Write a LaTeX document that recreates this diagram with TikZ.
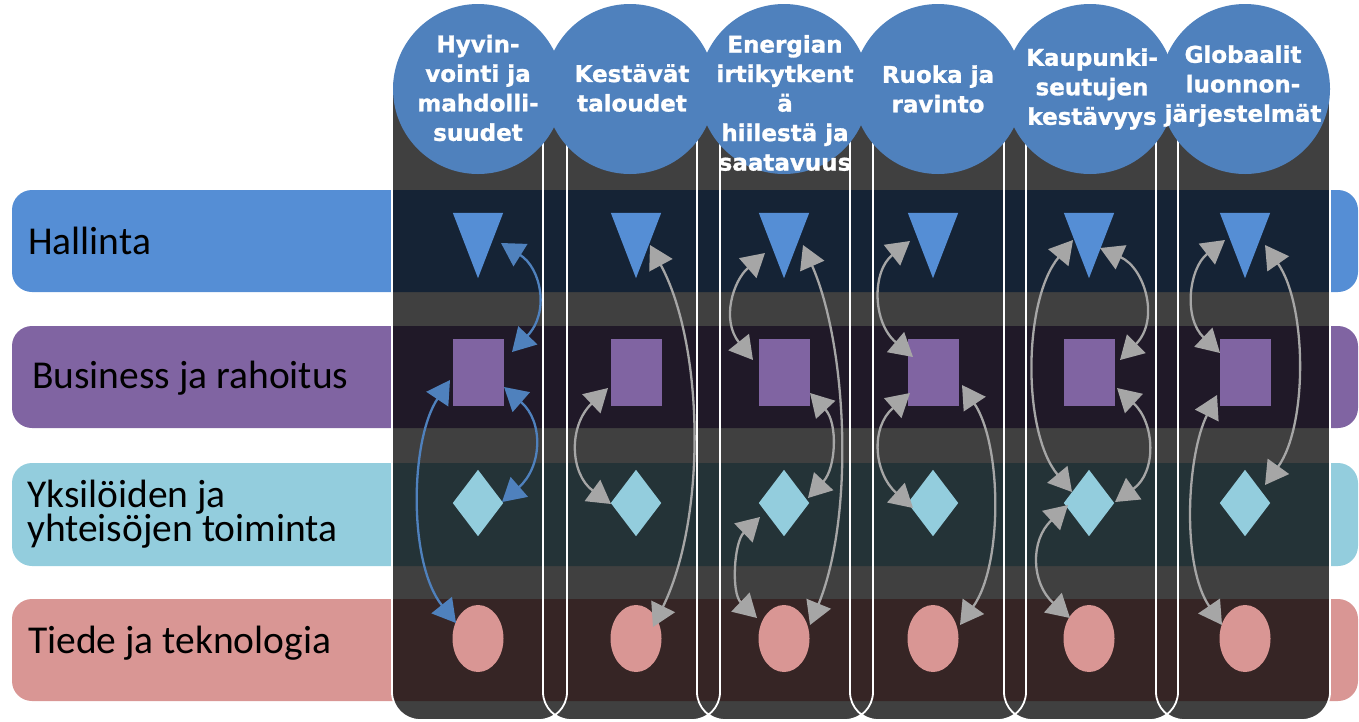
\documentclass[tikz,border=0pt]{standalone}
\usepackage{fontspec}
\setmainfont{Carlito}
\newfontfamily\hdrfont{DejaVu Sans Bold}[FakeBold=1.2]
\usetikzlibrary{arrows.meta,shapes.geometric,calc}
\definecolor{hdr}{HTML}{4F81BD}
\definecolor{cbl}{HTML}{558ED5}
\definecolor{cpu}{HTML}{8064A2}
\definecolor{clb}{HTML}{93CDDD}
\definecolor{cpk}{HTML}{D99694}
\definecolor{agray}{HTML}{A6A6A6}
\definecolor{ablue}{HTML}{4F81BD}
\begin{document}
\begin{tikzpicture}[x=1pt,y=-1pt,
  band/.style={fill=#1, rounded corners=20pt},
  hdrtext/.style={text=white, font=\hdrfont\fontsize{23}{29.5}\selectfont, align=center, inner sep=0pt},
  lbl/.style={anchor=base west, font=\fontsize{39.5}{32}\selectfont, inner sep=0pt, text=black},
  box/.style={minimum width=50pt, minimum height=66pt, inner sep=0pt},
  sqshape/.style={fill=cpu, minimum width=51pt, minimum height=67pt, inner sep=0pt},
  ellshape/.style={ellipse, fill=cpk, minimum width=51pt, minimum height=67pt, inner sep=0pt},
  hcirc/.style={circle, fill=hdr, minimum size=170pt, inner sep=0pt},
  link/.style={draw=#1, line width=2.3pt, arrows={Triangle[length=23pt,width=26pt]-Triangle[length=23pt,width=26pt]}},
]
\useasboundingbox (0,0) rectangle (1359,721);
% bands
\fill[band=cbl] (12,190) rectangle (1358,292);
\fill[band=cpu] (12,326) rectangle (1358,428);
\fill[band=clb] (12,463) rectangle (1358,566);
\fill[band=cpk] (12,599) rectangle (1358,701);
% columns (union, one fill)
\fill[black, fill opacity=0.75, rounded corners=28pt]
  (392,60) rectangle (567,720)
  (543,60) rectangle (720,720)
  (697,60) rectangle (873,720)
  (850,60) rectangle (1026,720)
  (1004,60) rectangle (1178,720)
  (1156,60) rectangle (1330,720);
\draw[white, line width=1.8pt, rounded corners=28pt]
  (392,60) rectangle (567,720)
  (543,60) rectangle (720,720)
  (697,60) rectangle (873,720)
  (850,60) rectangle (1026,720)
  (1004,60) rectangle (1178,720)
  (1156,60) rectangle (1330,720);
% row labels
\node[lbl] (l1) at (28,254) {Hallinta};
\node[lbl] (l2) at (32,388) {Business ja rahoitus};
\node[lbl] (l3) at (27,507) {\vtop{\baselineskip=34pt\lineskiplimit=-20pt\hbox{Yksilöiden ja}\hbox{yhteisöjen toiminta}}};
\node[lbl] (l4) at (28,653) {Tiede ja teknologia};
% shapes
\foreach \i/\x in {1/478,2/636,3/784,4/933,5/1089,6/1245}{
  \node[box, minimum height=65pt] (t\i) at (\x,245.5) {};
  \fill[cbl] (t\i.north west) -- (t\i.north east) -- (t\i.south) -- cycle;
  \node[sqshape] (s\i) at (\x,372.5) {};
  \node[box] (d\i) at (\x,503) {};
  \fill[clb] (d\i.north) -- (d\i.east) -- (d\i.south) -- (d\i.west) -- cycle;
  \node[ellshape] (e\i) at (\x,638.5) {};
}
% arrows column 1
\draw[link=ablue] ($(t1.center)+(23,-2.5)$) .. controls +(40,25) and +(38,-40) .. ($(s1.center)+(34,-20.5)$);
\draw[link=ablue] ($(s1.center)+(26,14.5)$) .. controls +(40,35) and +(40,-35) .. ($(d1.center)+(24,-1)$);
\draw[link=ablue] ($(s1.center)+(-28,7.5)$) .. controls +(-40,60) and +(-48,-60) .. ($(e1.center)+(-22,-15.5)$);
% column 2
\draw[link=agray] ($(t2.center)+(14,-0.5)$) .. controls +(54,100) and +(54,-110) .. ($(e2.center)+(17,-11.5)$);
\draw[link=agray] ($(s2.center)+(-28,15.5)$) .. controls +(-40,38) and +(-41,-30) .. ($(d2.center)+(-25,1)$);
% column 3
\draw[link=agray] ($(t3.center)+(-19,7.5)$) .. controls +(-32,28) and +(-32,-40) .. ($(s3.center)+(-31,-12.5)$);
\draw[link=agray] ($(t3.center)+(19,-0.5)$) .. controls +(44,100) and +(45,-110) .. ($(e3.center)+(26,-13.5)$);
\draw[link=agray] ($(s3.center)+(26,20.5)$) .. controls +(28,30) and +(28,-30) .. ($(d3.center)+(24,-5)$);
\draw[link=agray] ($(d3.center)+(-24,14)$) .. controls +(-26,25) and +(-26,-25) .. ($(e3.center)+(-27,-20.5)$);
% column 4
\draw[link=agray] ($(t4.center)+(-23,-4.5)$) .. controls +(-38,30) and +(-41,-35) .. ($(s4.center)+(-20,-15.5)$);
\draw[link=agray] ($(s4.center)+(-23,20.5)$) .. controls +(-40,35) and +(-39,-35) .. ($(d4.center)+(-20,5)$);
\draw[link=agray] ($(s4.center)+(29,12.5)$) .. controls +(40,60) and +(43,-60) .. ($(e4.center)+(27,-13.5)$);
% column 5
\draw[link=agray] ($(t5.center)+(-16,-5.5)$) .. controls +(-50,60) and +(-50,-60) .. ($(d5.center)+(-17,-11)$);
\draw[link=agray] ($(t5.center)+(11,2.5)$) .. controls +(45,20) and +(40,-40) .. ($(s5.center)+(31,-12.5)$);
\draw[link=agray] ($(s5.center)+(28,15.5)$) .. controls +(38,35) and +(42,-30) .. ($(d5.center)+(26,-1)$);
\draw[link=agray] ($(d5.center)+(-21,2)$) .. controls +(-38,35) and +(-39,-35) .. ($(e5.center)+(-19,-20.5)$);
% column 6
\draw[link=agray] ($(t6.center)+(-20,-5.5)$) .. controls +(-36,28) and +(-37,-35) .. ($(s6.center)+(-25,-19.5)$);
\draw[link=agray] ($(t6.center)+(20,-0.5)$) .. controls +(42,60) and +(43,-60) .. ($(d6.center)+(20,-18)$);
\draw[link=agray] ($(s6.center)+(-28,22.5)$) .. controls +(-30,60) and +(-41,-60) .. ($(e6.center)+(-23,-13.5)$);
% header circles
\node[hcirc] (c1) at (478,89) {};
\node[hcirc] (c2) at (630,89) {};
\node[hcirc] (c3) at (784,89) {};
\node[hcirc] (c4) at (938,89) {};
\node[hcirc] (c5) at (1090,89) {};
\node[hcirc] (c6) at (1245,89) {};
\node[hdrtext] (h1) at (478,88) {Hyvin-\\vointi ja\\mahdolli-\\suudet};
\node[hdrtext] (h2) at (632,88) {Kestävät\\taloudet};
\node[hdrtext] (h3) at (785,103) {Energian\\irtikytkent\\ä\\hiilestä ja\\saatavuus};
\node[hdrtext] (h4) at (938,89) {Ruoka ja\\ravinto};
\node[hdrtext] (h5) at (1092,89) {Kaupunki-\\seutujen\\kestävyys};
\node[hdrtext] (h6) at (1243,86) {Globaalit\\luonnon-\\järjestelmät};
\end{tikzpicture}
\end{document}
